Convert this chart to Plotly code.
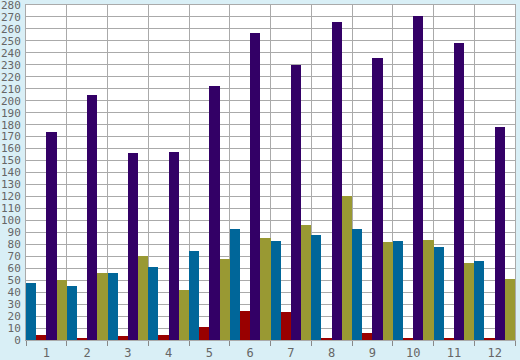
import plotly.graph_objects as go

categories = ["1", "2", "3", "4", "5", "6", "7", "8", "9", "10", "11", "12"]
blue_vals = [48, 45, 56, 61, 74, 93, 83, 88, 93, 83, 78, 66]
red_vals = [4, 2, 3, 4, 11, 24, 23, 2, 6, 1, 2, 1]
purple_vals = [174, 205, 156, 157, 212, 257, 230, 266, 236, 271, 248, 178]
olive_vals = [50, 56, 70, 42, 68, 85, 96, 120, 82, 84, 64, 51]
y_ticks = list(range(0, 290, 10))

series = [
    ("Series 1", blue_vals, "#006699"),
    ("Series 2", red_vals, "#990000"),
    ("Series 3", purple_vals, "#330066"),
    ("Series 4", olive_vals, "#999933"),
]

fig = go.Figure()
for name, vals, color in series:
    fig.add_trace(go.Bar(x=categories, y=vals, name=name,
                         marker=dict(color=color, line=dict(width=0))))

grid = "#aaaaaa"
fig.update_layout(
    width=520, height=360,
    margin=dict(l=26, r=5, t=5, b=20, autoexpand=False),
    paper_bgcolor="#d9eff6",
    plot_bgcolor="#ffffff",
    barmode="group", bargap=0, bargroupgap=0,
    showlegend=False,
    font=dict(family="DejaVu Sans Mono", size=11, color="#666666"),
    xaxis=dict(
        type="category", tickson="boundaries", ticks="outside", ticklen=5,
        tickcolor="#888888", showgrid=True, gridcolor=grid, gridwidth=1,
        showline=True, linecolor=grid, mirror=True, automargin=False,
        ticklabelstandoff=2, tickfont=dict(size=12),
    ),
    yaxis=dict(
        range=[0, 280.02], tickvals=y_ticks, ticktext=[str(v) for v in y_ticks],
        showgrid=True, gridcolor=grid, gridwidth=1, ticks="", ticklen=0,
        showline=True, linecolor=grid, mirror=True, zeroline=False,
        automargin=False, ticklabelstandoff=2, ticklabeloverflow="allow",
    ),
)

fig.write_html(
    "out.html",
    config={"displayModeBar": False},
    post_script="document.body.style.margin='0';document.body.style.overflow='hidden';",
)
